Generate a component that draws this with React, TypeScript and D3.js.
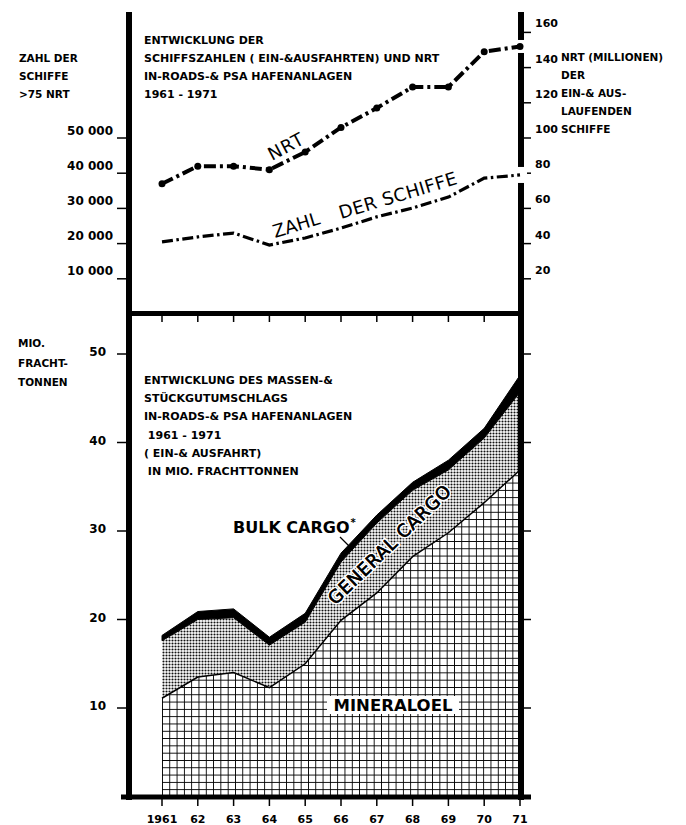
import React, { useEffect, useRef } from "react";
import * as d3 from "d3";

// years on the x axis (both panels share it)
const years = [1961, 1962, 1963, 1964, 1965, 1966, 1967, 1968, 1969, 1970, 1971];
const yearLabels = ["1961", "62", "63", "64", "65", "66", "67", "68", "69", "70", "71"];

// top panel
const nrtMillions = [74, 84, 84, 82, 92, 106, 117, 129, 129, 149, 152];
const shipCount = [20500, 21900, 23000, 19600, 21600, 24400, 27600, 30100, 33200, 38600, 39500];
const shipTicks = [10000, 20000, 30000, 40000, 50000];
const nrtTicks = [20, 40, 60, 80, 100, 120, 140, 160];

// bottom panel (mio. frachttonnen, stacked)
const mineraloel = [11.1, 13.5, 14.0, 12.3, 15.0, 19.9, 23.0, 27.1, 29.8, 33.2, 36.9];
const generalCargo = [6.5, 6.5, 6.2, 4.8, 4.7, 6.6, 7.9, 7.5, 7.1, 7.3, 8.8];
const bulkCargo = [0.6, 0.9, 1.0, 0.9, 1.0, 1.0, 0.9, 0.9, 1.1, 1.1, 1.9];
const tonTicks = [10, 20, 30, 40, 50];

const topTitle = [
  "ENTWICKLUNG DER",
  "SCHIFFSZAHLEN ( EIN-&AUSFAHRTEN) UND NRT",
  "IN-ROADS-& PSA HAFENANLAGEN",
  "1961 - 1971",
];
const bottomTitle = [
  "ENTWICKLUNG DES MASSEN-&",
  "STÜCKGUTUMSCHLAGS",
  "IN-ROADS-& PSA HAFENANLAGEN",
  " 1961 - 1971",
  "( EIN-& AUSFAHRT)",
  " IN MIO. FRACHTTONNEN",
];
const leftTopLabel = ["ZAHL DER", "SCHIFFE", ">75 NRT"];
const rightTopLabel = ["NRT (MILLIONEN)", "DER", "EIN-& AUS-", "LAUFENDEN", "SCHIFFE"];
const leftBottomLabel = ["MIO.", "FRACHT-", "TONNEN"];

const FONT = "DejaVu Sans";

export default function App() {
  const ref = useRef<SVGSVGElement>(null);

  useEffect(() => {
    const svg = d3.select(ref.current);
    svg.selectAll("*").remove();

    const x = d3.scaleLinear().domain([1961, 1971]).range([162, 520]);
    const yShips = d3.scaleLinear().domain([0, 50000]).range([314, 138]);
    const yNrt = d3.scaleLinear().domain([0, 160]).range([314, 32.4]);
    const yTon = d3.scaleLinear().domain([0, 50]).range([796.5, 354]);

    const defs = svg.append("defs");
    const grid = defs.append("pattern")
      .attr("id", "grid")
      .attr("patternUnits", "userSpaceOnUse")
      .attr("x", 162).attr("y", 796.5)
      .attr("width", 7.3).attr("height", 7.3);
    grid.append("rect").attr("width", 7.3).attr("height", 7.3).attr("fill", "#fff");
    grid.append("path").attr("d", "M0,0V7.3M0,0H7.3")
      .attr("stroke", "#000").attr("stroke-width", 1.8);

    const stip = defs.append("pattern")
      .attr("id", "stipple")
      .attr("patternUnits", "userSpaceOnUse")
      .attr("width", 3).attr("height", 3);
    stip.append("rect").attr("width", 3).attr("height", 3).attr("fill", "#fff");
    stip.append("circle").attr("cx", 1.5).attr("cy", 1.5).attr("r", 1.05).attr("fill", "#111");

    // ---- bottom panel areas
    const rows = years.map((yr, i) => ({
      yr,
      m: mineraloel[i],
      g: mineraloel[i] + generalCargo[i],
      t: mineraloel[i] + generalCargo[i] + bulkCargo[i],
    }));

    const areaM = d3.area<any>().x(d => x(d.yr)).y0(yTon(0)).y1(d => yTon(d.m));
    const areaG = d3.area<any>().x(d => x(d.yr)).y0(d => yTon(d.m)).y1(d => yTon(d.g));
    const areaB = d3.area<any>().x(d => x(d.yr)).y0(d => yTon(d.g)).y1(d => yTon(d.t));

    svg.append("path").attr("d", areaM(rows)).attr("fill", "url(#grid)");
    svg.append("path").attr("d", areaG(rows)).attr("fill", "url(#stipple)");
    svg.append("path").attr("d", areaB(rows)).attr("fill", "#000")
      .attr("stroke", "#000").attr("stroke-width", 1);
    svg.append("path")
      .attr("d", d3.line<any>().x(d => x(d.yr)).y(d => yTon(d.m))(rows))
      .attr("fill", "none").attr("stroke", "#000").attr("stroke-width", 1.5);

    // mineraloel label, knocked out of the grid
    svg.append("rect").attr("x", 327).attr("y", 696).attr("width", 132).attr("height", 18).attr("fill", "#fff");
    svg.append("text").attr("x", 393).attr("y", 711)
      .attr("text-anchor", "middle").attr("font-family", FONT).attr("font-weight", "bold")
      .attr("font-size", 16.5).text("MINERALOEL");

    svg.append("text")
      .attr("transform", "translate(394,549) rotate(-44)")
      .attr("text-anchor", "middle").attr("font-family", FONT)
      .attr("font-size", 18).attr("letter-spacing", 0.6)
      .attr("stroke", "#fff").attr("stroke-width", 3.5).attr("paint-order", "stroke")
      .attr("fill", "#000").text("GENERAL CARGO");
    svg.append("text")
      .attr("transform", "translate(394,549) rotate(-44)")
      .attr("text-anchor", "middle").attr("font-family", FONT)
      .attr("font-size", 18).attr("letter-spacing", 0.6)
      .attr("stroke", "#000").attr("stroke-width", 0.5)
      .attr("fill", "#000").text("GENERAL CARGO");

    const bulk = svg.append("text").attr("x", 233).attr("y", 533)
      .attr("font-family", FONT).attr("font-weight", "bold").attr("font-size", 16);
    bulk.append("tspan").text("BULK CARGO");
    bulk.append("tspan").attr("font-size", 10).attr("dy", -7).attr("dx", 1).text("*");
    svg.append("line").attr("x1", 340).attr("y1", 537).attr("x2", 352).attr("y2", 549)
      .attr("stroke", "#000").attr("stroke-width", 1.3);

    // ---- axes frame
    const thick = (x1: number, y1: number, x2: number, y2: number, w: number) =>
      svg.append("line").attr("x1", x1).attr("y1", y1).attr("x2", x2).attr("y2", y2)
        .attr("stroke", "#000").attr("stroke-width", w);
    thick(129, 12, 129, 800, 6);
    thick(521, 12, 521, 800, 6);
    thick(121, 797, 531, 797, 5);
    thick(126, 313.5, 524, 313.5, 5);

    const thin = (x1: number, y1: number, x2: number, y2: number) =>
      svg.append("line").attr("x1", x1).attr("y1", y1).attr("x2", x2).attr("y2", y2)
        .attr("stroke", "#000").attr("stroke-width", 1.5);

    years.forEach(yr => {
      thin(x(yr), 316, x(yr), 322);
      thin(x(yr), 799, x(yr), 806);
    });
    shipTicks.forEach(v => thin(117, yShips(v), 126, yShips(v)));
    nrtTicks.forEach(v => thin(524, yNrt(v), 531, yNrt(v)));
    tonTicks.forEach(v => {
      thin(117, yTon(v), 126, yTon(v));
      thin(524, yTon(v), 531, yTon(v));
    });

    // ---- top panel lines
    const nrtLine = d3.line<number>().x((_, i) => x(years[i])).y(d => yNrt(d));
    const shipLine = d3.line<number>().x((_, i) => x(years[i])).y(d => yShips(d));

    // breaks in the right axis where the lines run into it
    svg.append("rect").attr("x", 515).attr("y", yNrt(nrtMillions[10]) - 6.5)
      .attr("width", 12).attr("height", 13).attr("fill", "#fff");
    svg.append("rect").attr("x", 515).attr("y", yShips(shipCount[10]) - 8)
      .attr("width", 12).attr("height", 16).attr("fill", "#fff");

    svg.append("path").attr("d", nrtLine(nrtMillions))
      .attr("fill", "none").attr("stroke", "#000").attr("stroke-width", 4)
      .attr("stroke-dasharray", "12 4 3 4");
    svg.selectAll(".nrtdot").data(nrtMillions).enter().append("circle")
      .attr("cx", (_, i) => x(years[i])).attr("cy", d => yNrt(d)).attr("r", 3.5).attr("fill", "#000");

    svg.append("path").attr("d", shipLine(shipCount))
      .attr("fill", "none").attr("stroke", "#000").attr("stroke-width", 3.2)
      .attr("stroke-dasharray", "11 3.5 2.5 3.5");

    svg.append("text").attr("transform", "translate(272,161) rotate(-28)")
      .attr("font-family", FONT).attr("font-size", 18).attr("letter-spacing", 1).text("NRT");
    svg.append("text").attr("transform", "translate(275,238) rotate(-17)")
      .attr("font-family", FONT).attr("font-size", 18).text("ZAHL");
    svg.append("text").attr("transform", "translate(341,219) rotate(-16.7)")
      .attr("font-family", FONT).attr("font-size", 18).attr("letter-spacing", 0.4).text("DER SCHIFFE");

    // ---- tick labels
    const small = (tx: number, ty: number, s: string, size: number, anchor = "start") =>
      svg.append("text").attr("x", tx).attr("y", ty).attr("text-anchor", anchor)
        .attr("font-family", FONT).attr("font-weight", "bold").attr("font-size", size)
        .attr("xml:space", "preserve").text(s);

    shipTicks.forEach(v => small(113, yShips(v) - 3.5, d3.format(",")(v).replace(",", " "), 12, "end"));
    nrtTicks.forEach(v => small(535, yNrt(v) - 5, String(v), 11));
    tonTicks.forEach(v => small(106, yTon(v) + 2, String(v), 12, "end"));
    years.forEach((yr, i) => small(x(yr), 823, yearLabels[i], 11, "middle"));

    // ---- titles and axis names
    topTitle.forEach((s, i) => small(144, 44 + i * 18, s, 11));
    bottomTitle.forEach((s, i) => small(144, 384 + i * 18.2, s, 11));
    leftTopLabel.forEach((s, i) => small(19, 62 + i * 18, s, 10.5));
    rightTopLabel.forEach((s, i) => small(561, 61 + i * 18, s, 10.5));
    leftBottomLabel.forEach((s, i) => small(18, 347 + i * 19.5, s, 10.5));
  }, []);

  return (
    <svg
      ref={ref}
      width={686}
      height={825}
      style={{ position: "absolute", left: 0, top: 0, background: "#fff" }}
    />
  );
}
